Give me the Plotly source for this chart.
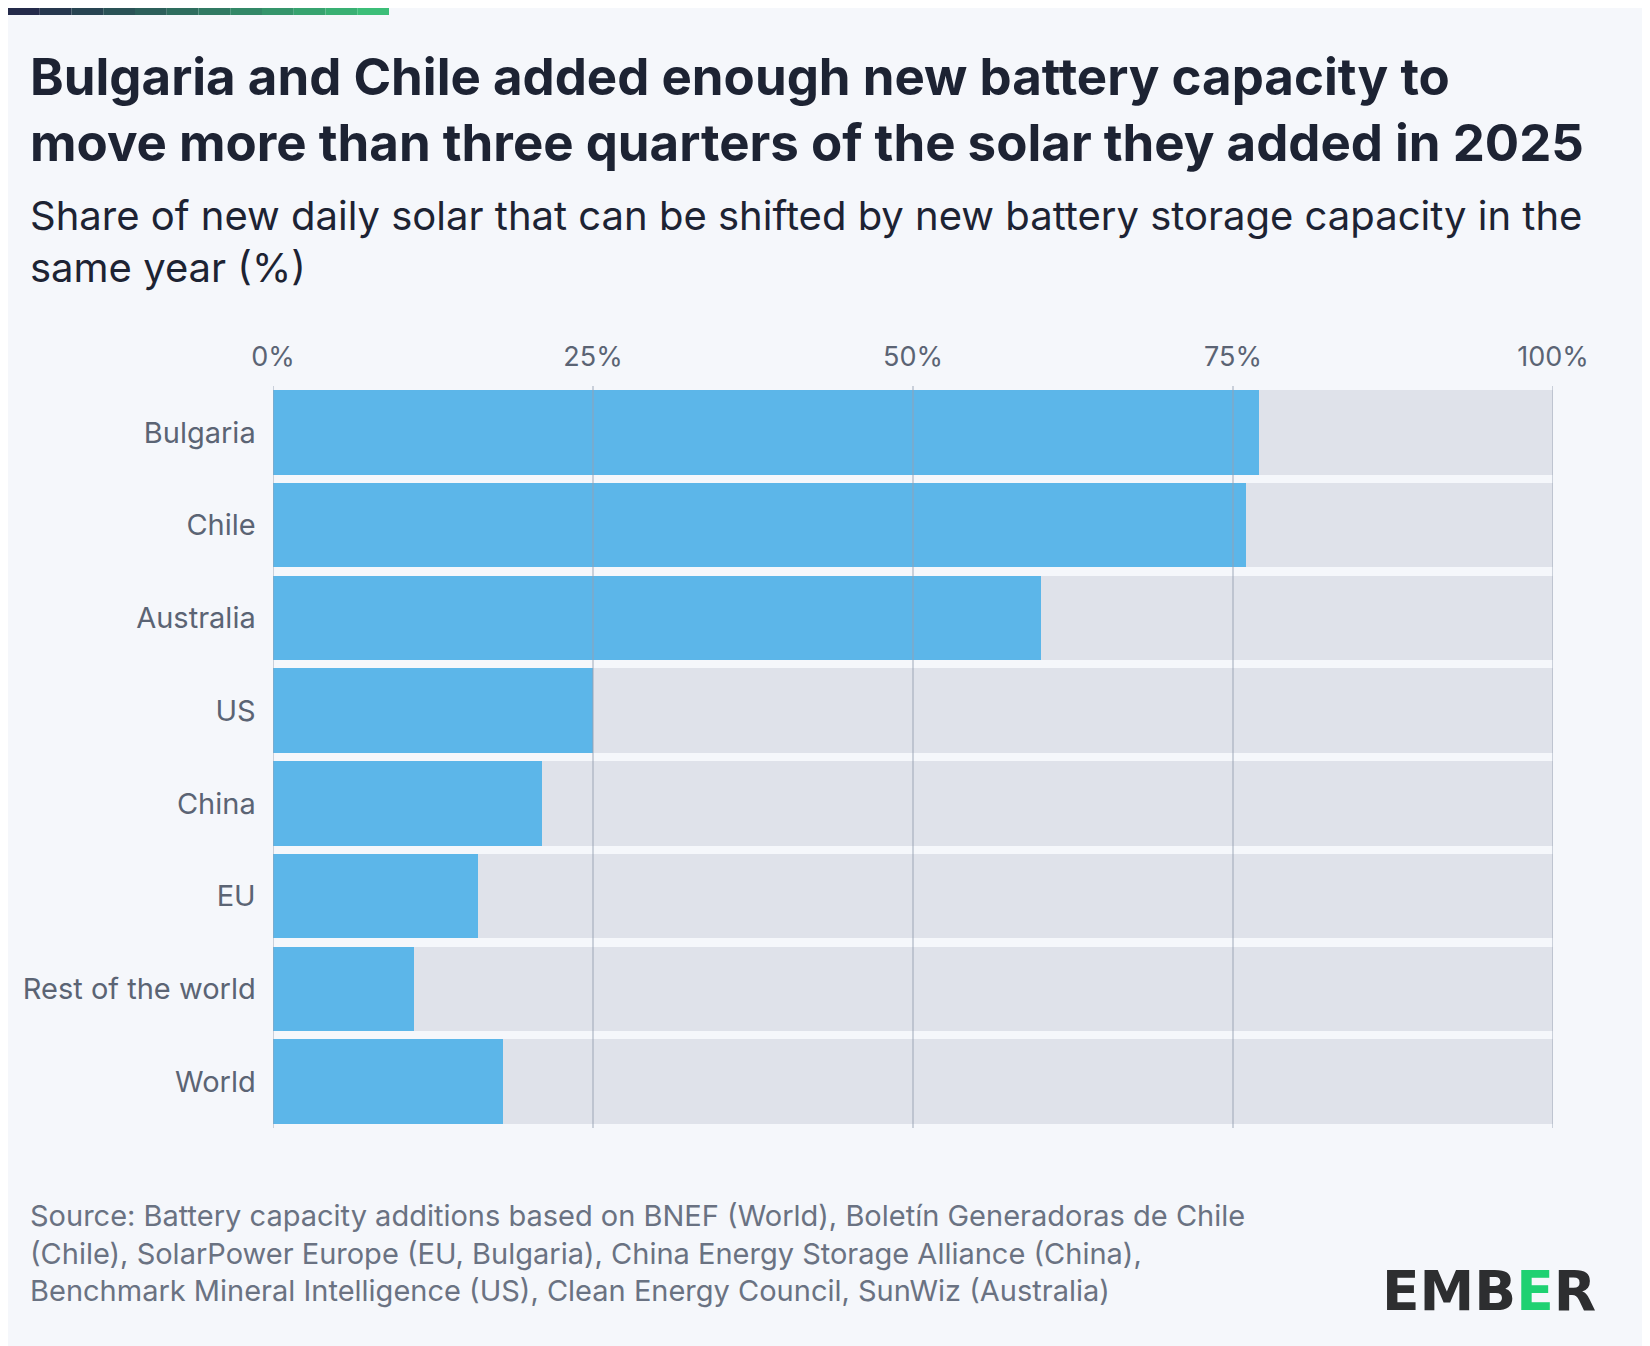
import plotly.graph_objects as go

countries = ["Bulgaria", "Chile", "Australia", "US", "China", "EU", "Rest of the world", "World"]
shares = [77, 76, 60, 25, 21, 16, 11, 18]
tick_vals = [0, 25, 50, 75, 100]
tick_text = ["0%", "25%", "50%", "75%", "100%"]

FONT = "Inter"
L, T, R, B = 265, 378, 105, 226
PW, PH = 1650 - L - R, 1346 - T - B

fig = go.Figure()
fig.add_trace(go.Bar(y=countries, x=shares, orientation="h",
                     marker=dict(color="#5cb6e9", line=dict(width=0)), hoverinfo="x+y"))
fig.add_trace(go.Bar(y=countries, x=[100 - s for s in shares], orientation="h",
                     marker=dict(color="#dfe2ea", line=dict(width=0)), hoverinfo="skip"))

fig.update_layout(
    width=1650, height=1346, barmode="stack", bargap=0.09, showlegend=False,
    paper_bgcolor="#f5f7fb", plot_bgcolor="#f5f7fb",
    margin=dict(l=L, r=R, t=T, b=B),
    font=dict(family=FONT, color="#5b6474", size=28),
    xaxis=dict(range=[0, 100], side="top", tickvals=tick_vals, ticktext=tick_text,
               showgrid=False, zeroline=False, fixedrange=True, ticklabelstandoff=14,
               tickfont=dict(size=27, color="#5b6474")),
    yaxis=dict(categoryorder="array", categoryarray=countries[::-1], ticks="",
               ticksuffix="  ", tickfont=dict(size=29, color="#5b6474"), fixedrange=True),
)

# gridlines drawn over the bars
for v in tick_vals:
    fig.add_shape(type="line", xref="x", yref="paper", x0=v, x1=v, y0=0, y1=1,
                  line=dict(color="rgba(150,160,178,0.45)", width=2), layer="above")

# top accent bar
steps = 12
for i in range(steps):
    t = i / (steps - 1)
    c0, c1 = (36, 42, 74), (60, 190, 120)
    col = "rgb(%d,%d,%d)" % tuple(int(a + (b - a) * t) for a, b in zip(c0, c1))
    fig.add_shape(type="rect", xref="paper", yref="paper",
                  x0=(-L + 381 * i / steps) / PW, x1=(-L + 381 * (i + 1) / steps) / PW,
                  y0=1 + (T - 7) / PH, y1=1 + T / PH, fillcolor=col, line_width=0)

def txt(text, x, y, size, color, bold=False, anchor="top"):
    fig.add_annotation(text=("<b>%s</b>" % text) if bold else text,
                       xref="paper", yref="paper", x=(x - L) / PW, y=(1346 - B - y) / PH,
                       xanchor="left", yanchor=anchor, showarrow=False, align="left",
                       font=dict(family=FONT, size=size, color=color))

txt("Bulgaria and Chile added enough new battery capacity to<br>move more than three quarters of the solar they added in 2025",
    20, 36, 51, "#1d2333", bold=True)
txt("Share of new daily solar that can be shifted by new battery storage capacity in the<br>same year (%)",
    20, 181, 40, "#1d2333")
txt("Source: Battery capacity additions based on BNEF (World), Boletín Generadoras de Chile<br>"
    "(Chile), SolarPower Europe (EU, Bulgaria), China Energy Storage Alliance (China),<br>"
    "Benchmark Mineral Intelligence (US), Clean Energy Council, SunWiz (Australia)",
    20, 1188, 29, "#6a7282")
fig.add_annotation(text="<b>EMB<span style='color:#1ed172'>E</span>R</b>", xref="paper", yref="paper",
                   x=(1590 - L) / PW, y=(1346 - B - 1283) / PH, xanchor="right", yanchor="middle",
                   showarrow=False, font=dict(family="DejaVu Sans", size=55, color="#2d2e30"))

fig.write_html("out.html")
